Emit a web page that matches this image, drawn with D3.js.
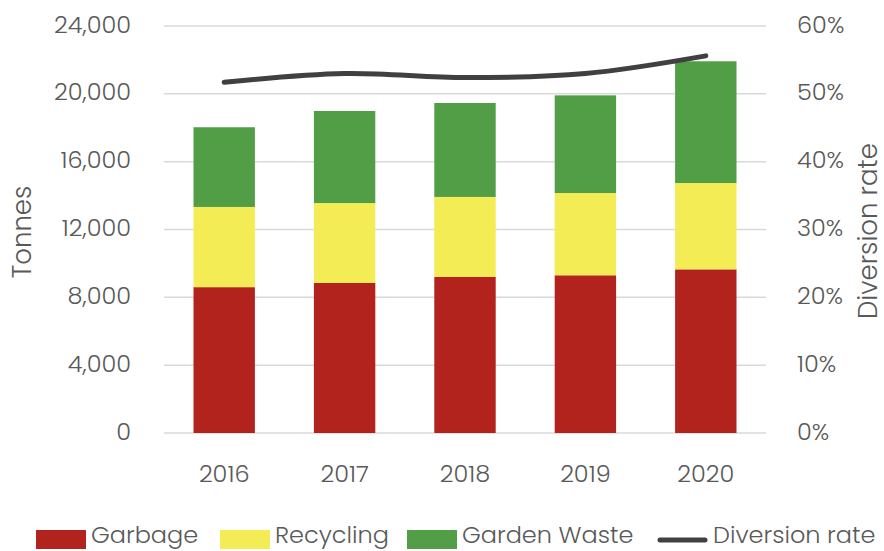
<!DOCTYPE html>
<html>
<head>
<meta charset="utf-8">
<script src="https://cdn.jsdelivr.net/npm/d3@7"></script>
<style>
  body { margin: 0; background: #fff; }
  svg text { font-family: "Poppins", "Lato", sans-serif; font-weight: 300; fill: #595959; }
</style>
</head>
<body>
<svg id="chart" width="884" height="551"></svg>
<script>
// Waste tonnes by stream, and the share diverted from landfill
const years = ["2016", "2017", "2018", "2019", "2020"];
const garbage = [8600, 8850, 9200, 9300, 9650];
const recycling = [4730, 4710, 4720, 4850, 5090];
const gardenWaste = [4700, 5430, 5540, 5760, 7180];
const diversionRate = [0.517, 0.530, 0.524, 0.530, 0.556];
const tonneTicks = [0, 4000, 8000, 12000, 16000, 20000, 24000];
const rateTicks = [0, 0.1, 0.2, 0.3, 0.4, 0.5, 0.6];

const colors = { garbage: "#B3231E", recycling: "#F3EC55", garden: "#529E47", line: "#404040" };

const svg = d3.select("#chart");
const m = { left: 164, right: 766, top: 26, bottom: 433 };

const x = d3.scaleBand().domain(years).range([m.left, m.right]).paddingInner(0.49).paddingOuter(0.245);
const y = d3.scaleLinear().domain([0, 24000]).range([m.bottom, m.top]);
const yR = d3.scaleLinear().domain([0, 0.6]).range([m.bottom, m.top]);

// gridlines
svg.append("g").selectAll("line").data(tonneTicks).join("line")
  .attr("x1", m.left).attr("x2", m.right)
  .attr("y1", d => y(d)).attr("y2", d => y(d))
  .attr("stroke", "#d9d9d9").attr("stroke-width", 1.5);

// stacked bars
const rows = years.map((yr, i) => ({ year: yr, garbage: garbage[i], recycling: recycling[i], garden: gardenWaste[i] }));
const stack = d3.stack().keys(["garbage", "recycling", "garden"])(rows);
svg.append("g").selectAll("g").data(stack).join("g")
  .attr("fill", d => colors[d.key])
  .selectAll("rect").data(d => d).join("rect")
  .attr("x", d => x(d.data.year))
  .attr("width", x.bandwidth())
  .attr("y", d => y(d[1]))
  .attr("height", d => y(d[0]) - y(d[1]));

// diversion rate line
const line = d3.line()
  .x((d, i) => x(years[i]) + x.bandwidth() / 2)
  .y(d => yR(d))
  .curve(d3.curveCatmullRom.alpha(0.5));
svg.append("path").datum(diversionRate)
  .attr("d", line)
  .attr("fill", "none").attr("stroke", colors.line)
  .attr("stroke-width", 5).attr("stroke-linecap", "round");

// left axis
const yAxis = d3.axisLeft(y).tickValues(tonneTicks).tickSize(0).tickPadding(0)
  .tickFormat(d3.format(","));
const gl = svg.append("g").attr("transform", "translate(131,0)").call(yAxis);
gl.select(".domain").remove();
gl.selectAll("text").style("font-size", "24px").attr("dy", "0.25em")
  .attr("fill", "#595959").attr("font-family", null);

// right axis
const yAxisR = d3.axisRight(yR).tickValues(rateTicks).tickSize(0).tickPadding(0)
  .tickFormat(d3.format(".0%"));
const gr = svg.append("g").attr("transform", "translate(797,0)").call(yAxisR);
gr.select(".domain").remove();
gr.selectAll("text").style("font-size", "24px").attr("dy", "0.25em")
  .attr("fill", "#595959").attr("font-family", null);

// category axis
const xAxis = d3.axisBottom(x).tickSize(0).tickPadding(0);
const gx = svg.append("g").attr("transform", "translate(0,465)").call(xAxis);
gx.select(".domain").remove();
gx.selectAll("text").style("font-size", "24px").attr("fill", "#595959").attr("font-family", null);

// axis titles
svg.append("text").attr("transform", "translate(31,232) rotate(-90)")
  .attr("text-anchor", "middle").style("font-size", "26px").text("Tonnes");
svg.append("text").attr("transform", "translate(877,231) rotate(-90)")
  .attr("text-anchor", "middle").style("font-size", "26px").text("Diversion rate");

// legend
const legend = [
  { label: "Garbage", color: colors.garbage, x: 36, type: "rect" },
  { label: "Recycling", color: colors.recycling, x: 220, type: "rect" },
  { label: "Garden Waste", color: colors.garden, x: 407, type: "rect" },
  { label: "Diversion rate", color: colors.line, x: 658, type: "line" }
];
const lg = svg.append("g").selectAll("g").data(legend).join("g")
  .attr("transform", d => `translate(${d.x},0)`);
lg.filter(d => d.type === "rect").append("rect")
  .attr("x", 0).attr("y", 530).attr("width", 50).attr("height", 19).attr("fill", d => d.color);
lg.filter(d => d.type === "line").append("line")
  .attr("x1", 2).attr("x2", 47).attr("y1", 540).attr("y2", 540)
  .attr("stroke", d => d.color).attr("stroke-width", 5).attr("stroke-linecap", "round");
lg.append("text").attr("x", 55).attr("y", 543).style("font-size", "24px").text(d => d.label);
</script>
</body>
</html>
